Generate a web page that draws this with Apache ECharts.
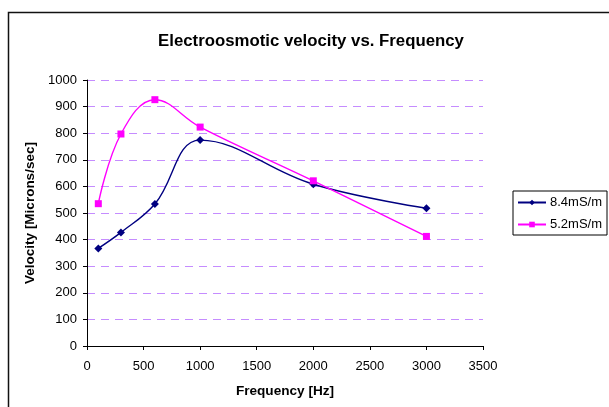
<!DOCTYPE html>
<html>
<head>
<meta charset="utf-8">
<script src="https://cdn.jsdelivr.net/npm/echarts@6/dist/echarts.min.js"></script>
<style>
html,body{margin:0;padding:0;background:#fff;}
#main{width:609px;height:407px;}
</style>
</head>
<body>
<div id="main"></div>
<script>
var frequencies = [100, 300, 600, 1000, 2000, 3000];
var velocity84 = [367, 427, 534, 774, 608, 518];
var velocity52 = [535, 797, 926, 823, 621, 412];
var seriesNames = ['8.4mS/m', '5.2mS/m'];

function pairs(xs, ys) { return xs.map(function (x, i) { return [x, ys[i]]; }); }
function plain(v) { return String(v); }

var chart = echarts.init(document.getElementById('main'), null, {renderer: 'canvas'});
var font = 'Liberation Sans, Arial, sans-serif';
chart.setOption({
  backgroundColor: '#ffffff',
  animation: false,
  title: {
    text: 'Electroosmotic velocity vs. Frequency',
    left: 306, top: 28, textAlign: 'center',
    textStyle: {fontFamily: font, fontSize: 16.8, fontWeight: 'bold', color: '#000'}
  },
  graphic: [{
    type: 'rect', silent: true, z: -1,
    shape: {x: 8.5, y: 12.5, width: 700, height: 500},
    style: {fill: 'none', stroke: '#111', lineWidth: 1.5}
  }],
  legend: {
    orient: 'vertical',
    left: 513, top: 191,
    width: 92,
    padding: [5, 5, 4, 4],
    itemGap: 9,
    itemWidth: 28, itemHeight: 7,
    borderColor: '#000', borderWidth: 1, backgroundColor: '#fff',
    textStyle: {fontFamily: font, fontSize: 13, color: '#000', padding: [0, 0, 0, -1]},
    data: seriesNames
  },
  grid: {left: 87, right: 126, top: 80, bottom: 61, containLabel: false},
  xAxis: {
    type: 'value', min: 0, max: 3500, interval: 500,
    name: 'Frequency [Hz]', nameLocation: 'middle', nameGap: 38,
    nameTextStyle: {fontFamily: font, fontSize: 13.6, fontWeight: 'bold', color: '#000'},
    axisLine: {show: true, lineStyle: {color: '#000', width: 1}},
    axisTick: {show: true, length: 4, inside: false, lineStyle: {color: '#000'}},
    axisLabel: {fontFamily: font, fontSize: 13, color: '#000', margin: 14, formatter: plain},
    splitLine: {show: false}
  },
  yAxis: {
    type: 'value', min: 0, max: 1000, interval: 100,
    name: 'Velocity [Microns/sec]', nameLocation: 'middle', nameGap: 47,
    nameTextStyle: {fontFamily: font, fontSize: 13.5, fontWeight: 'bold', color: '#000'},
    axisLine: {show: true, lineStyle: {color: '#000', width: 1}},
    axisTick: {show: true, length: 4, inside: false, lineStyle: {color: '#000'}},
    axisLabel: {fontFamily: font, fontSize: 13, color: '#000', margin: 10, formatter: plain},
    splitLine: {show: true, lineStyle: {color: '#c58cff', width: 1.2, type: [8, 6]}}
  },
  series: [{
    name: seriesNames[0], type: 'line', smooth: 0.4,
    data: pairs(frequencies, velocity84),
    symbol: 'diamond', symbolSize: 8,
    itemStyle: {color: '#000080'},
    lineStyle: {color: '#000080', width: 1.4}
  }, {
    name: seriesNames[1], type: 'line', smooth: 0.4,
    data: pairs(frequencies, velocity52),
    symbol: 'rect', symbolSize: 7,
    itemStyle: {color: '#ff00ff'},
    lineStyle: {color: '#ff00ff', width: 1.4}
  }]
});
</script>
</body>
</html>
